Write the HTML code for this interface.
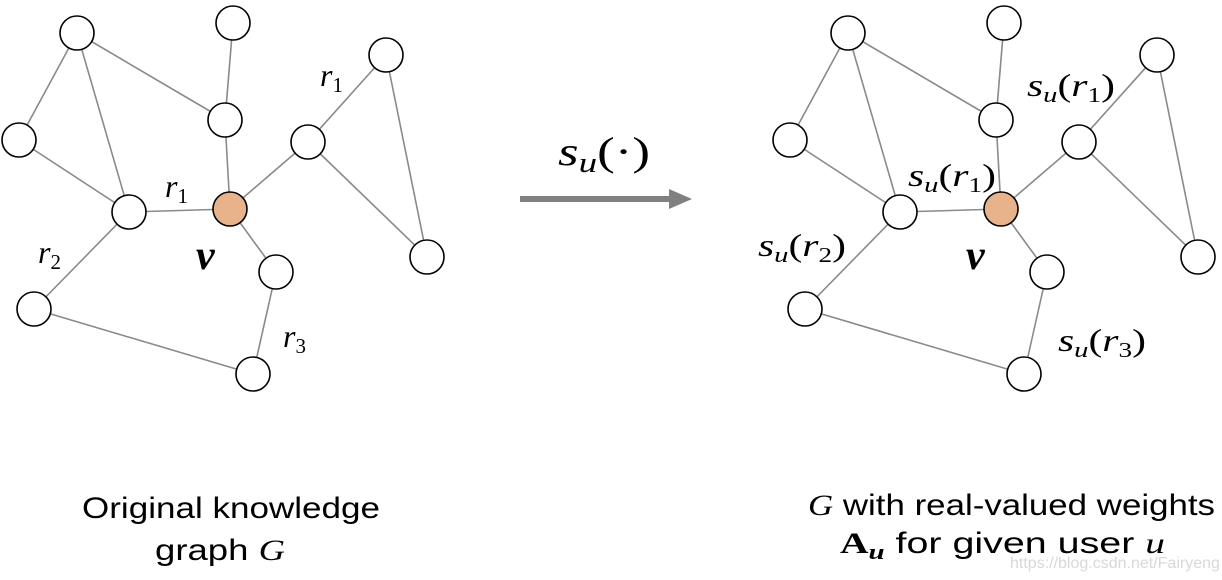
<!DOCTYPE html>
<html><head><meta charset="utf-8"><style>html,body{margin:0;padding:0;background:#fff;}svg{display:block}</style></head>
<body>
<svg width="1222" height="580" viewBox="0 0 1222 580" xmlns="http://www.w3.org/2000/svg">
<defs>
<g id="g">
<g stroke="#8a8a8a" stroke-width="1.6">
<line x1="77" y1="33" x2="19" y2="140"/>
<line x1="77" y1="33" x2="129" y2="212"/>
<line x1="77" y1="33" x2="225" y2="120"/>
<line x1="233" y1="23" x2="225" y2="120"/>
<line x1="225" y1="120" x2="230" y2="209"/>
<line x1="19" y1="140" x2="129" y2="212"/>
<line x1="129" y1="212" x2="230" y2="209"/>
<line x1="230" y1="209" x2="308" y2="142"/>
<line x1="308" y1="142" x2="386" y2="55"/>
<line x1="308" y1="142" x2="427" y2="257"/>
<line x1="386" y1="55" x2="427" y2="257"/>
<line x1="230" y1="209" x2="276" y2="272"/>
<line x1="276" y1="272" x2="253" y2="374"/>
<line x1="253" y1="374" x2="34" y2="309"/>
<line x1="34" y1="309" x2="129" y2="212"/>
</g>
<g fill="#fff" stroke="#000" stroke-width="1.6">
<circle cx="77" cy="33" r="17"/>
<circle cx="233" cy="23" r="17"/>
<circle cx="19" cy="140" r="17"/>
<circle cx="225" cy="120" r="17"/>
<circle cx="129" cy="212" r="17"/>
<circle cx="308" cy="142" r="17"/>
<circle cx="386" cy="55" r="17"/>
<circle cx="427" cy="257" r="17"/>
<circle cx="276" cy="272" r="17"/>
<circle cx="34" cy="309" r="17"/>
<circle cx="253" cy="374" r="17"/>
<circle cx="230" cy="209" r="17" fill="#e8b38a"/>
</g>
</g>
</defs>
<use href="#g"/>
<use href="#g" transform="translate(771,0)"/>
<g font-family="Liberation Serif, serif" font-style="italic" font-size="32" fill="#000">
<text x="320" y="86">r<tspan font-size="21" dy="6" font-style="normal">1</tspan></text>
<text x="165" y="197">r<tspan font-size="21" dy="6" font-style="normal">1</tspan></text>
<text x="38" y="263">r<tspan font-size="21" dy="6" font-style="normal">2</tspan></text>
<text x="283" y="347">r<tspan font-size="21" dy="6" font-style="normal">3</tspan></text>
<text x="196" y="269" font-size="42" font-weight="bold">v</text>
<text x="966" y="269" font-size="42" font-weight="bold">v</text>
<text x="1027" y="96" textLength="88" lengthAdjust="spacingAndGlyphs">s<tspan font-size="22" dy="6">u</tspan><tspan dy="-6" font-style="normal">(</tspan>r<tspan font-size="21" dy="6" font-style="normal">1</tspan><tspan dy="-6" font-style="normal">)</tspan></text>
<text x="908" y="186" textLength="88" lengthAdjust="spacingAndGlyphs">s<tspan font-size="22" dy="6">u</tspan><tspan dy="-6" font-style="normal">(</tspan>r<tspan font-size="21" dy="6" font-style="normal">1</tspan><tspan dy="-6" font-style="normal">)</tspan></text>
<text x="758" y="256" textLength="88" lengthAdjust="spacingAndGlyphs">s<tspan font-size="22" dy="6">u</tspan><tspan dy="-6" font-style="normal">(</tspan>r<tspan font-size="21" dy="6" font-style="normal">2</tspan><tspan dy="-6" font-style="normal">)</tspan></text>
<text x="1058" y="351" textLength="88" lengthAdjust="spacingAndGlyphs">s<tspan font-size="22" dy="6">u</tspan><tspan dy="-6" font-style="normal">(</tspan>r<tspan font-size="21" dy="6" font-style="normal">3</tspan><tspan dy="-6" font-style="normal">)</tspan></text>
<text x="558" y="165" font-size="40" textLength="92" lengthAdjust="spacingAndGlyphs">s<tspan font-size="28" dy="7">u</tspan><tspan dy="-7" font-style="normal">(·)</tspan></text>
</g>
<line x1="520" y1="199" x2="672" y2="199" stroke="#808080" stroke-width="6"/>
<polygon points="669,189 692,199 669,209" fill="#808080"/>
<g font-family="Liberation Sans, sans-serif" font-size="30" fill="#000">
<text x="82" y="518" textLength="298" lengthAdjust="spacingAndGlyphs">Original knowledge</text>
<text x="155" y="560" textLength="130" lengthAdjust="spacingAndGlyphs">graph <tspan font-family="Liberation Serif, serif" font-style="italic">G</tspan></text>
<text x="808" y="515" textLength="407" lengthAdjust="spacingAndGlyphs"><tspan font-family="Liberation Serif, serif" font-style="italic">G</tspan> with real-valued weights</text>
<text x="840" y="553" textLength="325" lengthAdjust="spacingAndGlyphs"><tspan font-family="Liberation Serif, serif" font-weight="bold">A</tspan><tspan font-family="Liberation Serif, serif" font-weight="bold" font-style="italic" font-size="22" dy="6">u</tspan><tspan dy="-6"> for given user </tspan><tspan font-family="Liberation Serif, serif" font-style="italic">u</tspan></text>
</g>
<text x="1010" y="568" font-family="Liberation Sans, sans-serif" font-size="16" fill="#d8d8d8">https://blog.csdn.net/Fairyeng</text>
</svg>
</body></html>
